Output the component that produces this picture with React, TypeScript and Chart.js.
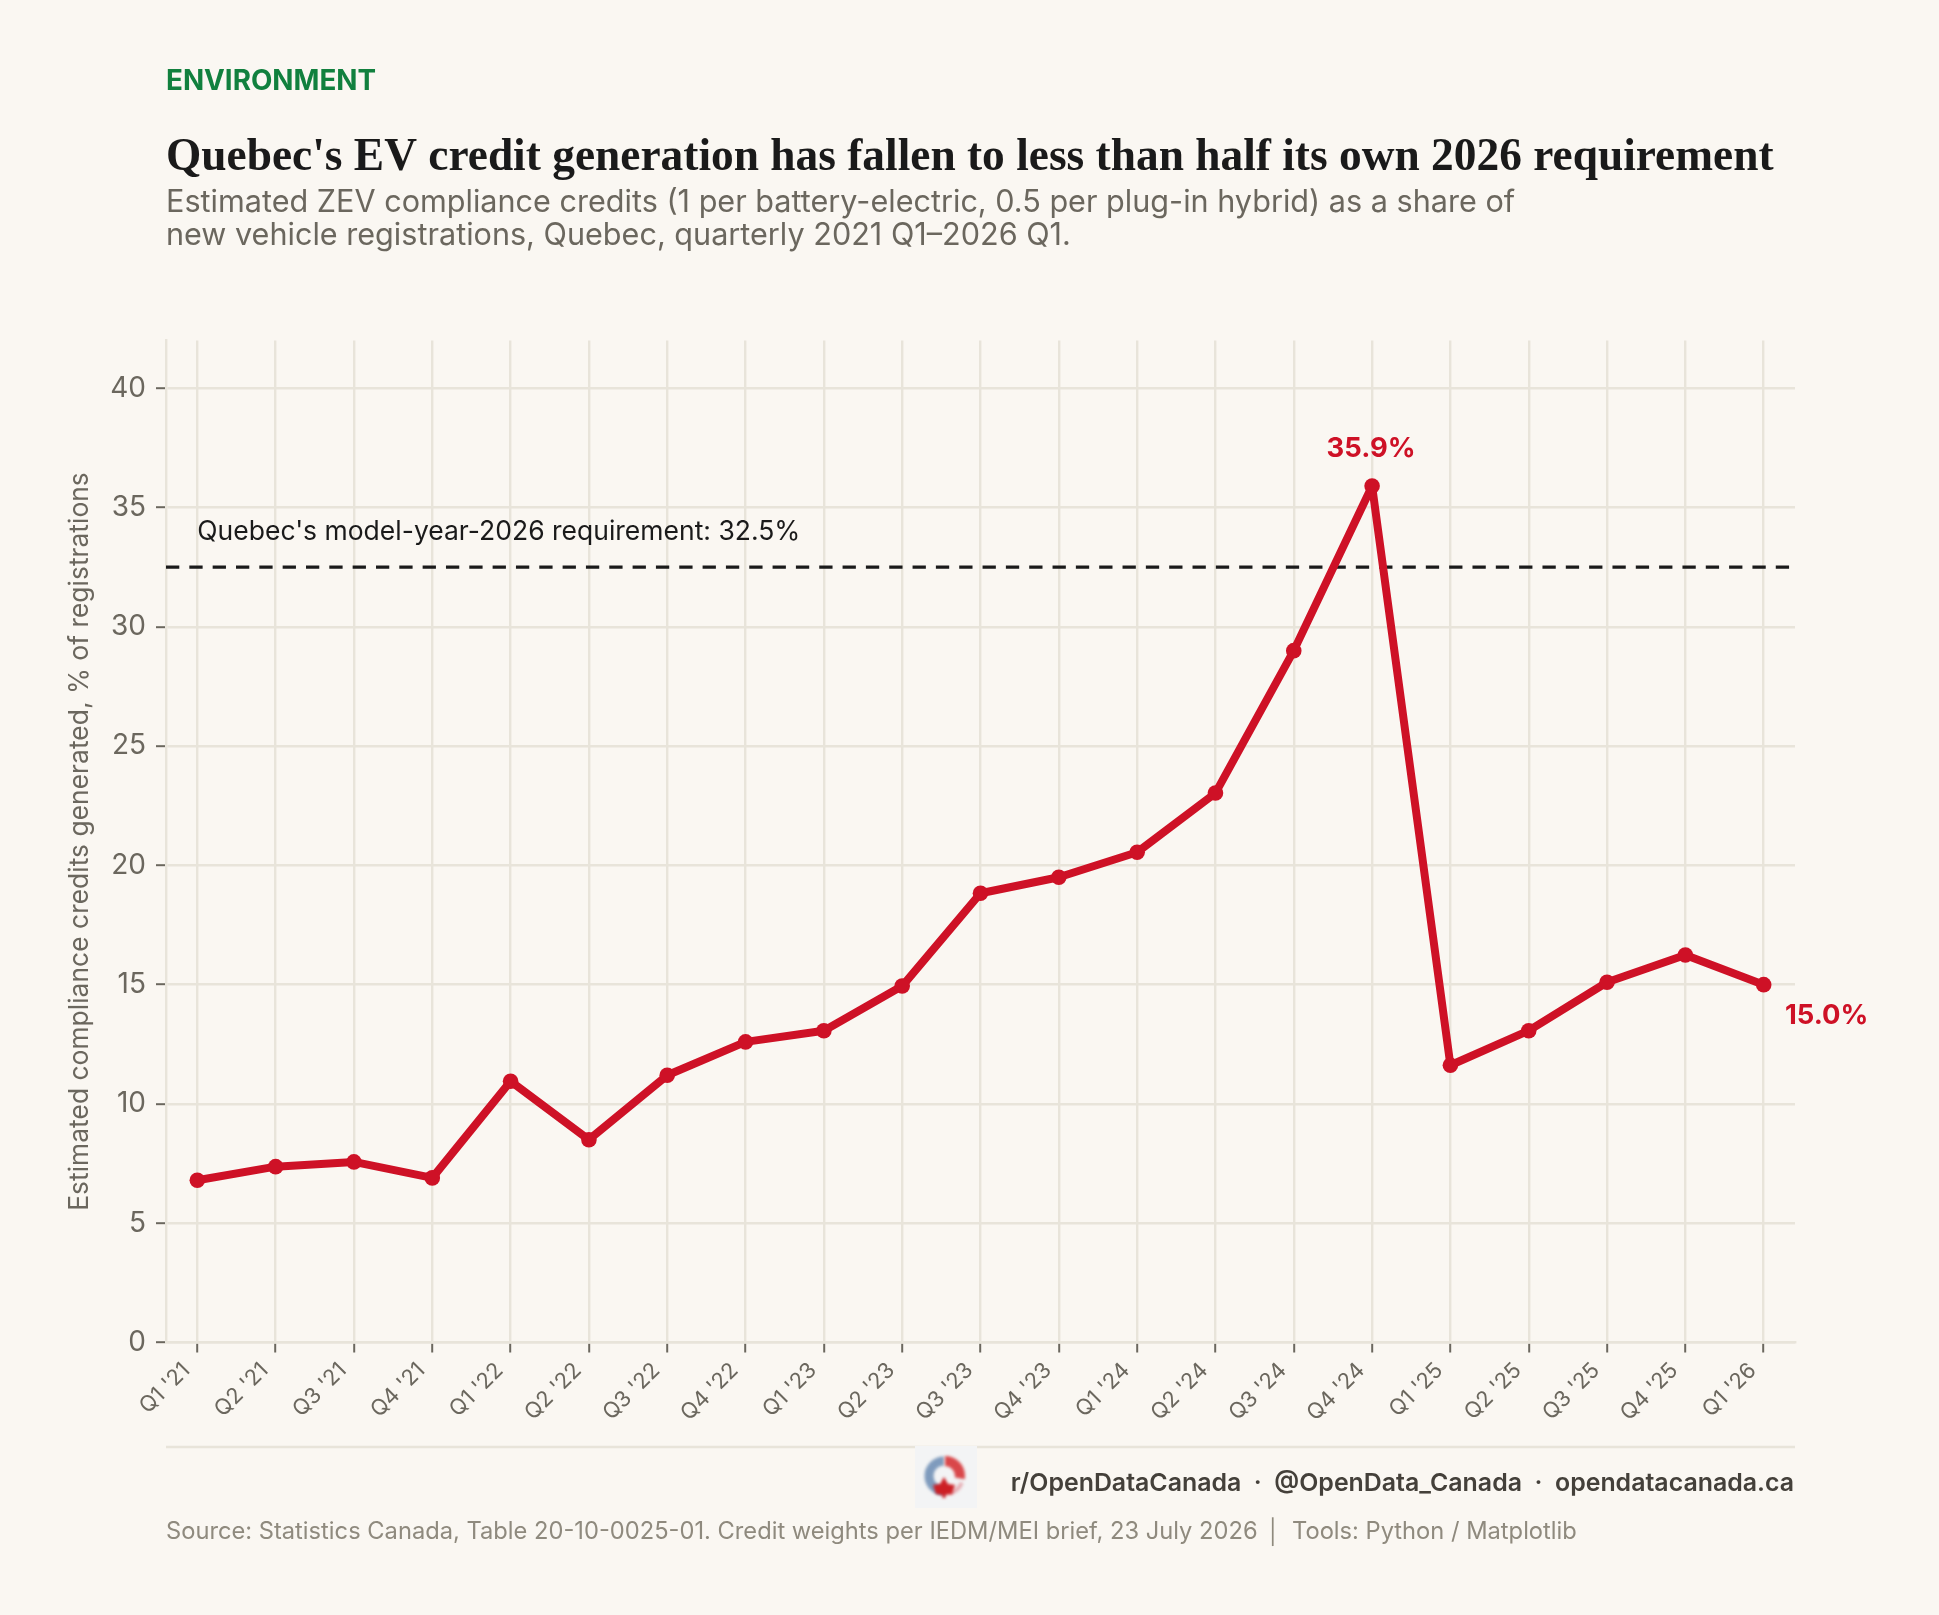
import React, { useEffect, useRef } from "react";
import { Chart, registerables } from "chart.js";

Chart.register(...registerables);

const quarters = ["Q1 '21","Q2 '21","Q3 '21","Q4 '21","Q1 '22","Q2 '22","Q3 '22","Q4 '22","Q1 '23","Q2 '23","Q3 '23","Q4 '23","Q1 '24","Q2 '24","Q3 '24","Q4 '24","Q1 '25","Q2 '25","Q3 '25","Q4 '25","Q1 '26"];
const creditShare = [6.8,7.37,7.57,6.9,10.95,8.5,11.2,12.6,13.07,14.94,18.83,19.5,20.55,23.03,29.0,35.9,11.62,13.07,15.1,16.24,15.0];
const yTickValues = [0,5,10,15,20,25,30,35,40];
const requirement = 32.5;
const requirementLabel = "Quebec's model-year-2026 requirement: 32.5%";
const yAxisTitle = "Estimated compliance credits generated, % of registrations";
const kicker = "ENVIRONMENT";
const title = "Quebec's EV credit generation has fallen to less than half its own 2026 requirement";
const subtitleLines = ["Estimated ZEV compliance credits (1 per battery-electric, 0.5 per plug-in hybrid) as a share of","new vehicle registrations, Quebec, quarterly 2021 Q1\u20132026 Q1."];
const socials = "r/OpenDataCanada  \u00b7  @OpenData_Canada  \u00b7  opendatacanada.ca";
const sourceText = "Source: Statistics Canada, Table 20-10-0025-01. Credit weights per IEDM/MEI brief, 23 July 2026";
const sourceSeparator = "\u2502";
const toolsText = "Tools: Python / Matplotlib";

const BG = "#FAF7F2";
const GRID = "#E8E4DA";
const RED = "#CE1126";
const INK = "#1A1A1A";
const MUTED = "#6B675E";

function drawLogo(ctx: CanvasRenderingContext2D) {
  ctx.save();
  ctx.fillStyle = "#F3F4F5";
  ctx.fillRect(915, 1446, 62, 62);
  ctx.filter = "blur(1.6px)";
  const cx = 944, cy = 1476, r = 15;
  ctx.lineWidth = 9;
  ctx.strokeStyle = "#7F9BBD";
  ctx.beginPath(); ctx.arc(cx, cy, r, Math.PI * 0.5, Math.PI * 1.5); ctx.stroke();
  ctx.strokeStyle = "#D9474A";
  ctx.lineWidth = 10;
  ctx.beginPath(); ctx.arc(cx + 1, cy, r, -Math.PI * 0.5, Math.PI * 0.05); ctx.stroke();
  ctx.strokeStyle = "#E6AEB4";
  ctx.lineWidth = 4;
  ctx.beginPath(); ctx.arc(cx + 1, cy, r + 3, Math.PI * 0.12, Math.PI * 0.42); ctx.stroke();
  ctx.fillStyle = "#CC1F24";
  const ly = cy + 1;
  ctx.beginPath();
  ctx.moveTo(cx, ly); ctx.lineTo(cx + 4, ly + 7); ctx.lineTo(cx + 11, ly + 8); ctx.lineTo(cx + 8, ly + 17);
  ctx.lineTo(cx + 1.5, ly + 18); ctx.lineTo(cx + 1.5, ly + 21); ctx.lineTo(cx - 1.5, ly + 21); ctx.lineTo(cx - 1.5, ly + 18);
  ctx.lineTo(cx - 8, ly + 17); ctx.lineTo(cx - 11, ly + 8); ctx.lineTo(cx - 4, ly + 7);
  ctx.closePath(); ctx.fill();
  ctx.restore();
}

function text(ctx: CanvasRenderingContext2D, s: string, x: number, y: number, font: string, color: string, align: CanvasTextAlign = "left") {
  ctx.font = font;
  ctx.fillStyle = color;
  ctx.textAlign = align;
  ctx.textBaseline = "alphabetic";
  ctx.fillText(s, x, y);
}

const pagePlugin = {
  id: "pageText",
  beforeDraw(chart: any) {
    const ctx = chart.ctx;
    ctx.save();
    ctx.fillStyle = BG;
    ctx.fillRect(0, 0, chart.width, chart.height);
    ctx.restore();
  },
  afterDraw(chart: any) {
    const ctx = chart.ctx;
    const { x } = chart.scales;
    ctx.save();
    text(ctx, kicker, 166, 90, "700 27.8px Inter", "#11803E");
    text(ctx, title, 166, 170, "700 45.4px 'Liberation Serif'", INK);
    text(ctx, subtitleLines[0], 166, 212, "400 30.6px Inter", MUTED);
    text(ctx, subtitleLines[1], 166, 245, "400 30.6px Inter", MUTED);
    text(ctx, requirementLabel, x.getPixelForValue(0), 540, "400 26.5px Inter", INK);
    text(ctx, creditShare[15].toFixed(1) + "%", x.getPixelForValue(15) - 1, 457, "700 27.4px Inter", RED, "center");
    text(ctx, creditShare[20].toFixed(1) + "%", 1785, 1024, "700 27.4px Inter", RED);
    ctx.strokeStyle = GRID;
    ctx.lineWidth = 2.4;
    ctx.beginPath(); ctx.moveTo(166, 1447); ctx.lineTo(1795, 1447); ctx.stroke();
    drawLogo(ctx);
    text(ctx, socials, 1794, 1491, "600 24.9px Inter", "#44403A", "right");
    text(ctx, sourceText, 166, 1538.5, "400 23.7px Inter", "#8F8A7E");
    text(ctx, sourceSeparator, 1273, 1538.5, "400 23.7px Inter", "#8F8A7E", "center");
    text(ctx, toolsText, 1292, 1538.5, "400 23.7px Inter", "#8F8A7E");
    ctx.restore();
  },
};

export default function App() {
  const ref = useRef<HTMLCanvasElement>(null);
  useEffect(() => {
    const chart = new Chart(ref.current!, {
      type: "line",
      data: {
        datasets: [
          {
            data: creditShare.map((v, i) => ({ x: i, y: v })),
            borderColor: RED,
            backgroundColor: RED,
            borderWidth: 8,
            borderJoinStyle: "round",
            pointRadius: 7.8,
            pointBackgroundColor: RED,
            pointBorderWidth: 0,
            tension: 0,
            order: 1,
          },
          {
            data: [{ x: -0.4, y: requirement }, { x: 20.4, y: requirement }],
            borderColor: INK,
            borderWidth: 3.2,
            borderDash: [13.3, 10.03],
            pointRadius: 0,
            tension: 0,
            order: 2,
          },
        ],
      },
      options: {
        responsive: false,
        animation: false,
        devicePixelRatio: 1,
        layout: { padding: { left: 60, right: 144, top: 340.5, bottom: 152.5 } },
        plugins: { legend: { display: false }, tooltip: { enabled: false }, title: { display: false } },
        scales: {
          x: {
            type: "linear",
            min: -0.4,
            max: 20.4,
            afterBuildTicks(s: any) { s.ticks = quarters.map((_, i) => ({ value: i })); },
            afterFit(s: any) { s.height = 120; },
            border: { display: true, color: GRID, width: 2.4 },
            grid: { color: GRID, lineWidth: 2.4, tickColor: MUTED, tickLength: 10, tickWidth: 2 },
            ticks: {
              autoSkip: false,
              maxRotation: 45,
              minRotation: 45,
              padding: 5,
              labelOffset: -11,
              color: MUTED,
              font: { family: "Inter", size: 22 },
              callback: (v: any) => quarters[v],
            },
          },
          y: {
            type: "linear",
            min: 0,
            max: 42,
            afterBuildTicks(s: any) { s.ticks = yTickValues.map((value) => ({ value })); },
            afterFit(s: any) { s.width = 106; },
            border: { display: true, color: GRID, width: 2.4 },
            grid: { color: GRID, lineWidth: 2.4, tickColor: MUTED, tickLength: 10, tickWidth: 2 },
            title: { display: true, text: yAxisTitle, color: MUTED, font: { family: "Inter", size: 26.45 }, padding: { top: 4.5, bottom: 0 } },
            ticks: { padding: 10, color: MUTED, font: { family: "Inter", size: 28 }, callback: (v: any) => String(v) },
          },
        },
      },
      plugins: [pagePlugin],
    } as any);
    return () => chart.destroy();
  }, []);
  return (
    <div style={{ position: "fixed", inset: 0, background: BG }}>
      <canvas ref={ref} width={1939} height={1615} style={{ display: "block", width: 1939, height: 1615 }} />
    </div>
  );
}
